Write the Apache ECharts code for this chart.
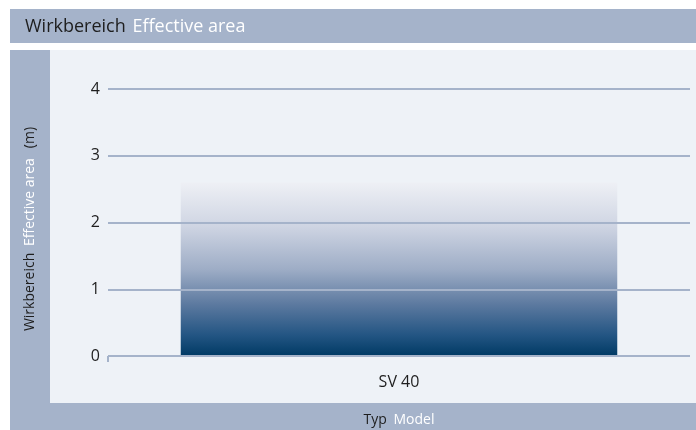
<!DOCTYPE html>
<html><head><meta charset="utf-8">
<script src="https://cdn.jsdelivr.net/npm/echarts@6/dist/echarts.min.js"></script>
<style>html,body{margin:0;padding:0;background:#fff}#c{width:696px;height:430px}</style>
</head><body><div id="c"></div>
<script>
const categories = ['SV 40'];
const values = [2.6];
const yTicks = [0, 1, 2, 3, 4];

const FONT = 'Open Sans';
const band = '#a5b3ca';
const panel = '#eef2f7';
const dark = '#1e1e1e';
const GRID_LEFT = 108;

const chart = echarts.init(document.getElementById('c'));
chart.setOption({
  backgroundColor: '#ffffff',
  animation: false,
  graphic: [
    {id:'hdr', type:'rect', shape:{x:10,y:9,width:686,height:34}, style:{fill:band}, z:-10},
    {id:'frame', type:'rect', shape:{x:10,y:50,width:686,height:380}, style:{fill:band}, z:-10},
    {id:'panel', type:'rect', shape:{x:50,y:50,width:646,height:353}, style:{fill:panel}, z:-9},
    {id:'title', type:'text', x:25, y:27, style:{
      text:'{a|Wirkbereich}  {b|Effective area}', verticalAlign:'middle',
      rich:{a:{fontFamily:FONT,fontSize:18,fill:dark},b:{fontFamily:FONT,fontSize:18,fill:'#ffffff'}}
    }},
    {id:'yname', type:'text', x:30, y:229, rotation:Math.PI/2, style:{
      text:'{a|Wirkbereich}  {b|Effective area}   {a|(m)}',
      align:'center', verticalAlign:'middle',
      rich:{a:{fontFamily:FONT,fontSize:14,fill:dark},b:{fontFamily:FONT,fontSize:14,fill:'#ffffff'}}
    }},
    {id:'xname', type:'text', x:399, y:420, style:{
      text:'{a|Typ}  {b|Model}', align:'center', verticalAlign:'middle',
      rich:{a:{fontFamily:FONT,fontSize:14,fill:dark},b:{fontFamily:FONT,fontSize:14,fill:'#ffffff'}}
    }}
  ],
  grid: {left:GRID_LEFT, right:6, top:89, bottom:74, containLabel:false},
  xAxis: {
    type:'category', data:categories,
    axisLine:{show:false}, axisTick:{show:false},
    axisLabel:{fontFamily:FONT, fontSize:16, color:dark, margin:18}
  },
  yAxis: {
    type:'value', min:yTicks[0], max:yTicks[yTicks.length-1], interval:1, z:5,
    axisLine:{show:false},
    axisTick:{show:false},
    axisLabel:{fontFamily:FONT, fontSize:16, color:dark, margin:8},
    splitLine:{show:true, lineStyle:{color:band, width:2}}
  },
  series: [{
    type:'bar', data:values, barWidth:'75%', z:2,
    itemStyle:{color:new echarts.graphic.LinearGradient(0,0,0,1,[
      {offset:0, color:'#eef0f5'},
      {offset:0.25, color:'#cfd5e3'},
      {offset:0.5, color:'#9eadc6'},
      {offset:0.7, color:'#5d7aa0'},
      {offset:0.88, color:'#235583'},
      {offset:1, color:'#003a64'}
    ])}
  }]
});
const y0 = chart.convertToPixel({yAxisIndex:0}, yTicks[0]);
chart.setOption({graphic:[
  {id:'zeroTick', type:'line', shape:{x1:GRID_LEFT, y1:y0, x2:GRID_LEFT, y2:y0+6}, style:{stroke:band, lineWidth:2}, z:10}
]});
</script></body></html>
